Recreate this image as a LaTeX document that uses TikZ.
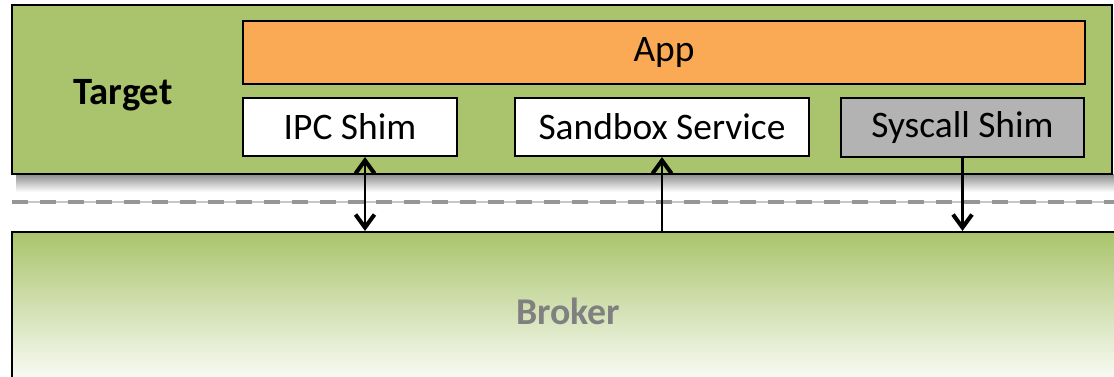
\documentclass[tikz,border=0pt]{standalone}
\usepackage{fontspec}
\setmainfont{Carlito}
\usetikzlibrary{arrows.meta}
\definecolor{targetgreen}{RGB}{169,196,108}
\definecolor{apporange}{RGB}{250,169,85}
\definecolor{shimgray}{RGB}{179,179,179}
\definecolor{dashgray}{RGB}{150,150,150}
\definecolor{rulegray}{RGB}{200,200,200}
\tikzset{
	box/.style={draw=black,line width=1.2pt,rectangle,inner sep=0pt,font=\fontsize{21.3}{25}\selectfont},
	link/.style={line width=1.5pt,black}
}
\begin{document}
\begin{tikzpicture}[x=0.02cm,y=-0.02cm,>={Straight Barb[length=2.6mm,width=3.8mm,line width=2.3pt]}]
	\def\px{0.02cm}
	\useasboundingbox (0,0) rectangle (1114,376);
	\clip (0,0) rectangle (1114,376);
	% shadow of the target
	\shade[top color=black!45,bottom color=white] (16,174) rectangle (1114,192);
	% target
	\node[box,fill=targetgreen,minimum width=1100*\px,minimum height=169*\px] (target) at (562,89.5) {};
	\node[font=\fontsize{22}{26}\selectfont\bfseries] (targetname) at (123,95) {Target};
	\node[box,fill=apporange,minimum width=842*\px,minimum height=63*\px] (app) at (664,52.5) {App};
	\node[box,fill=white,minimum width=214*\px,minimum height=58*\px] (ipc) at (350,127) {IPC Shim};
	\node[box,fill=white,minimum width=294*\px,minimum height=58*\px] (sandbox) at (662,127) {Sandbox Service};
	\node[box,fill=shimgray,minimum width=243*\px,minimum height=59*\px] (syscall) at (962.5,127.5) {Syscall Shim};
	% boundary
	\draw[rulegray,line width=1pt] (12,202) -- (1114,202);
	\draw[dashgray,line width=2.4pt,dash pattern=on 0.32cm off 0.24cm] (12,202) -- (1114,202);
	% broker
	\node[box,shade,top color=targetgreen,bottom color=white,minimum width=1112*\px,minimum height=158*\px,
		text=black!50,font=\fontsize{21.5}{25}\selectfont\bfseries] (broker) at (568,311) {Broker};
	% links
	\draw[link,<->] ([xshift=0.3cm]ipc.south) -- ([xshift=0.3cm]ipc.south |- broker.north);
	\draw[link,->] (sandbox.south |- broker.north) -- (sandbox.south);
	\draw[link,->] (syscall.south) -- (syscall.south |- broker.north);
\end{tikzpicture}
\end{document}
